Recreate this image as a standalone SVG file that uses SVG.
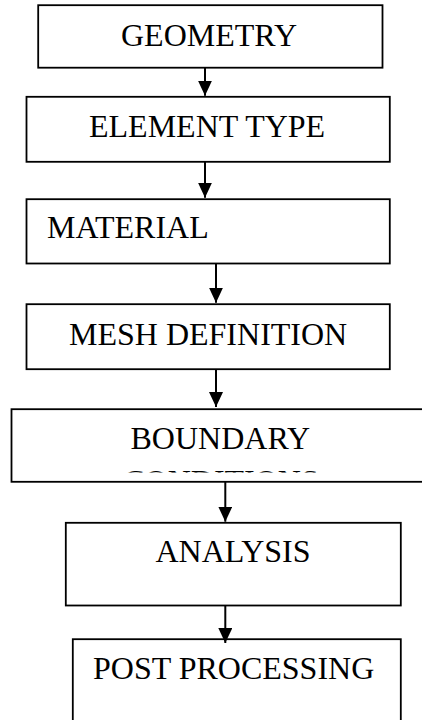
<svg xmlns="http://www.w3.org/2000/svg" width="422" height="720" viewBox="0 0 422 720">
<style>
.box{fill:#fff;stroke:#000;stroke-width:1.8}
.lbl{font-family:"Liberation Serif","Times New Roman",serif;font-size:32px;fill:#000}
.conn{stroke:#000;stroke-width:2;fill:none}
</style>
<defs>
<marker id="ah" markerUnits="userSpaceOnUse" markerWidth="16" markerHeight="14" refX="15" refY="7" orient="auto">
<path d="M0,0 L15,7 L0,14 z" fill="#000"/>
</marker>
<clipPath id="bcClip"><rect x="0" y="409" width="422" height="63.5"/></clipPath>
</defs>
<rect width="422" height="720" fill="#fff"/>
<g id="geometry"><rect class="box" x="38.2" y="5.2" width="344.3" height="62.5"/><text class="lbl" x="121" y="46">GEOMETRY</text></g>
<g id="element-type"><rect class="box" x="26.5" y="96.8" width="363.3" height="65"/><text class="lbl" x="89" y="137">ELEMENT TYPE</text></g>
<g id="material"><rect class="box" x="26.5" y="199.2" width="363.3" height="64.3"/><text class="lbl" x="47" y="238">MATERIAL</text></g>
<g id="mesh-definition"><rect class="box" x="26.5" y="304.2" width="363.3" height="65"/><text class="lbl" x="69" y="345">MESH DEFINITION</text></g>
<g id="boundary-conditions"><rect class="box" x="11.5" y="409.2" width="430" height="72.6"/><text class="lbl" x="130.5" y="449">BOUNDARY</text><text class="lbl" x="221" y="491.5" text-anchor="middle" clip-path="url(#bcClip)">CONDITIONS</text></g>
<g id="analysis"><rect class="box" x="65.8" y="522.8" width="335" height="82.7"/><text class="lbl" x="155.5" y="562.3">ANALYSIS</text></g>
<g id="post-processing"><rect class="box" x="72.8" y="639.2" width="328" height="100"/><text class="lbl" x="93" y="679">POST PROCESSING</text></g>
<g id="connectors">
<line class="conn" x1="205" y1="68" x2="205" y2="95.7" marker-end="url(#ah)"/>
<line class="conn" x1="205" y1="162" x2="205" y2="197.7" marker-end="url(#ah)"/>
<line class="conn" x1="216" y1="263.5" x2="216" y2="302.7" marker-end="url(#ah)"/>
<line class="conn" x1="216" y1="369.2" x2="216" y2="407" marker-end="url(#ah)"/>
<line class="conn" x1="225.3" y1="481.8" x2="225.3" y2="521.7" marker-end="url(#ah)"/>
<line class="conn" x1="225.3" y1="605.5" x2="225.3" y2="643" marker-end="url(#ah)"/>
</g>
</svg>
